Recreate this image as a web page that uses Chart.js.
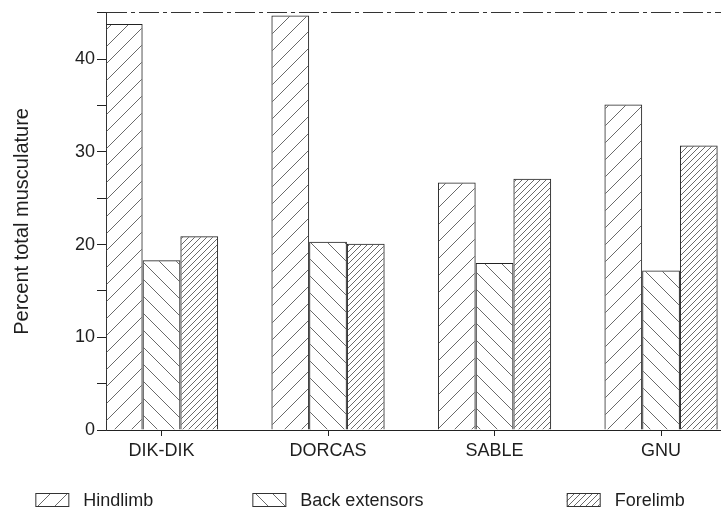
<!DOCTYPE html>
<html>
<head>
  <title>Percent total musculature</title>
  <script src="https://cdn.jsdelivr.net/npm/chart.js@4.4.0/dist/chart.umd.min.js"></script>
  <style>
    body {
      margin: 0;
      padding: 0;
      background: #fff;
    }
  </style>
</head>
<body>
  <canvas id="grafik" width="721" height="522"></canvas>

  <script>
    // data
    const categories = ['DIK-DIK', 'DORCAS', 'SABLE', 'GNU'];
    const seriesNames = ['Hindlimb', 'Back extensors', 'Forelimb'];
    const hindlimb = [43.8, 44.7, 26.7, 35.1];
    const backExtensors = [18.3, 20.3, 18.0, 17.2];
    const forelimb = [20.9, 20.1, 27.1, 30.7];
    const yLabels = [0, 10, 20, 30, 40];
    const yMax = 45;

    const fontFamily = '"Liberation Sans", Arial, Helvetica, sans-serif';
    const ink = '#1e1e1e';

    // hatch fill, '/' or '\', one line per tile
    function hatch(step, dir) {
      const c = document.createElement('canvas');
      c.width = step;
      c.height = step;
      const g = c.getContext('2d');
      g.strokeStyle = '#444';
      g.lineWidth = 0.8;
      g.beginPath();
      for (const k of [-step, 0, step]) {
        if (dir === '/') {
          g.moveTo(k - 1, step + 1);
          g.lineTo(k + step + 1, -1);
        } else {
          g.moveTo(k - 1, -1);
          g.lineTo(k + step + 1, step + 1);
        }
      }
      g.stroke();
      return g.createPattern(c, 'repeat');
    }

    const fills = [hatch(17, '/'), hatch(17, '\\'), hatch(6, '/')];
    const series = [hindlimb, backExtensors, forelimb];

    // legend with the hatch swatches, spread like the original
    const hatchLegend = {
      id: 'hatchLegend',
      afterDraw(chart) {
        const c = chart.ctx;
        const spots = [0.049, 0.35, 0.786];
        chart.data.datasets.forEach((ds, i) => {
          const x = chart.width * spots[i];
          const y = 500;
          c.save();
          c.fillStyle = ds.backgroundColor;
          c.fillRect(x, y - 7, 33, 13);
          c.strokeStyle = '#333';
          c.lineWidth = 1;
          c.strokeRect(x + 0.5, y - 6.5, 33, 13);
          c.fillStyle = ink;
          c.font = '18px ' + fontFamily;
          c.textBaseline = 'middle';
          c.fillText(ds.label, x + 48, y + 1);
          c.restore();
        });
      }
    };

    const ctx = document.getElementById('grafik').getContext('2d');
    const chart = new Chart(ctx, {
      type: 'bar',
      data: {
        datasets: series.map((vals, s) => ({
          label: seriesNames[s],
          data: vals.map((v, i) => ({ x: i, y: v })),
          backgroundColor: fills[s],
          borderColor: '#222',
          borderWidth: 1
        }))
      },
      options: {
        responsive: false,
        animation: false,
        devicePixelRatio: 1,
        categoryPercentage: 0.68,
        barPercentage: 1.0,
        layout: {
          padding: { top: 10, right: 0, bottom: 52, left: 0 }
        },
        plugins: {
          legend: { display: false },
          tooltip: { enabled: false }
        },
        scales: {
          x: {
            type: 'linear',
            min: -1 / 3,
            max: 3.36,
            offset: false,
            afterFit: (s) => { s.height = 40; },
            ticks: {
              stepSize: 1,
              includeBounds: false,
              autoSkip: false,
              maxRotation: 0,
              padding: 4,
              color: ink,
              font: { family: fontFamily, size: 18 },
              callback: (v) => categories[v] ?? ''
            },
            grid: {
              offset: false,
              drawOnChartArea: false,
              drawTicks: true,
              tickLength: 6,
              color: '#222'
            },
            border: { color: '#222', width: 1, dash: [20, 4, 4, 4] }
          },
          y: {
            min: 0,
            max: yMax,
            afterFit: (s) => { s.width = 106; },
            ticks: {
              stepSize: 5,
              padding: 2,
              color: ink,
              font: { family: fontFamily, size: 18 },
              callback: (v) => yLabels.includes(v) ? v : ''
            },
            grid: {
              color: (c) => c.tick && c.tick.value === yMax ? '#333' : 'rgba(0,0,0,0)',
              tickColor: '#222',
              tickLength: 9,
              lineWidth: 1
            },
            border: { color: '#333', width: 1, dash: [20, 4, 4, 4] },
            title: {
              display: true,
              text: 'Percent total musculature',
              color: ink,
              font: { family: fontFamily, size: 20 },
              padding: { top: 10, bottom: 0 }
            }
          }
        }
      },
      plugins: [hatchLegend]
    });
  </script>
</body>
</html>
